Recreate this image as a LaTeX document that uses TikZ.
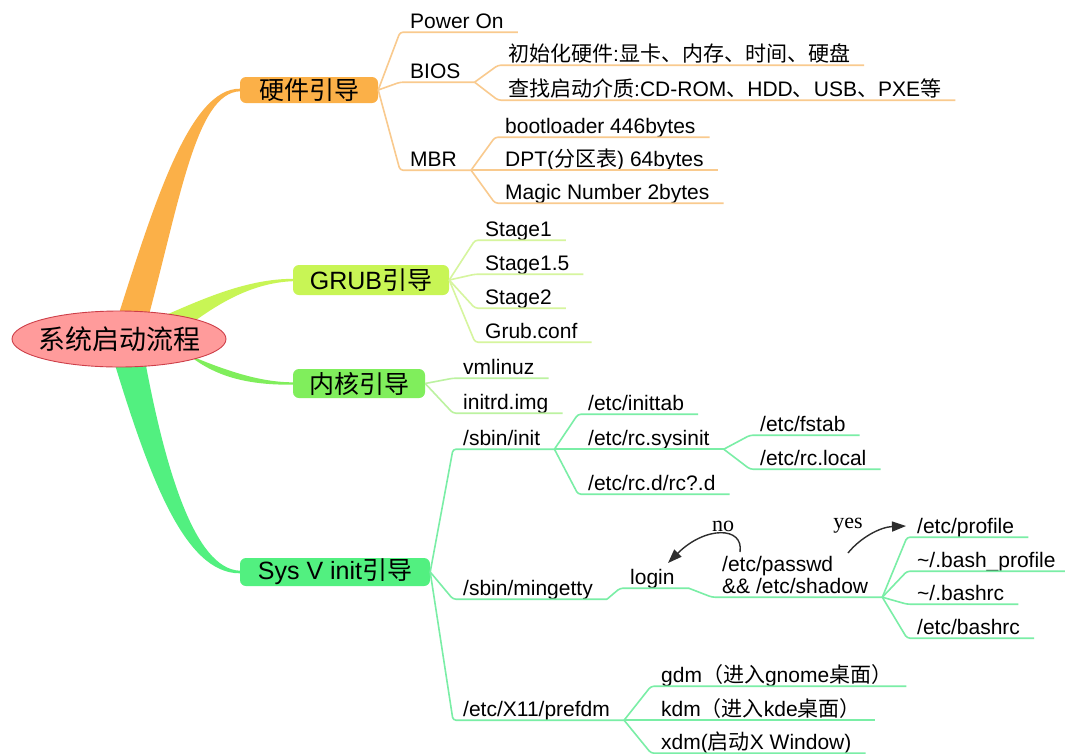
\documentclass[tikz,border=0pt]{standalone}
\usepackage{fontspec}
\setmainfont{Liberation Sans}
\newfontfamily\cjk{Noto Sans CJK SC}
\newfontfamily\notefont{Liberation Serif}
\usetikzlibrary{shapes.geometric,arrows.meta}

\newcommand\zh[1]{{\cjk #1}}

\definecolor{hwFill}{RGB}{251,176,72}
\definecolor{hwLine}{RGB}{249,202,142}
\definecolor{grubFill}{RGB}{200,245,85}
\definecolor{grubLine}{RGB}{214,245,158}
\definecolor{kerFill}{RGB}{128,238,92}
\definecolor{kerLine}{RGB}{188,242,160}
\definecolor{sysFill}{RGB}{82,240,128}
\definecolor{sysLine}{RGB}{122,238,166}
\definecolor{rootFill}{RGB}{255,155,155}
\definecolor{rootDraw}{RGB}{205,62,72}
\definecolor{noteInk}{RGB}{45,45,45}

\tikzset{
  leaf/.style={font=\fontsize{21}{21}\selectfont, inner sep=0pt,
    text height=16pt, text depth=4pt, anchor=base west},
  mainbox/.style={rounded corners=6pt, font=\fontsize{25}{25}\selectfont,
    inner sep=0pt, text=black},
  rootbox/.style={ellipse, fill=rootFill, draw=rootDraw, line width=0.9pt,
    minimum width=214pt, minimum height=56pt, inner sep=0pt,
    font=\cjk\fontsize{27}{27}\selectfont},
  twigline/.style={line width=1.6pt, rounded corners=3pt},
  notearrow/.style={draw=noteInk, line width=1.4pt,
    -{Triangle[length=14pt,width=10pt]}},
  notelabel/.style={font=\notefont\fontsize{22}{22}\selectfont, inner sep=0pt}
}

% connector from a fork point to a leaf, continuing as the leaf's underline
\newcommand\twig[3]{%
  \draw[twigline, #1] (#2) -- ([xshift=-10pt]#3.south west)
    -- ([xshift=14pt]#3.south east) coordinate (#3-e);}

\begin{document}
\begin{tikzpicture}[x=1pt,y=-1pt]
\fill[white] (0,0) rectangle (1065,753);
\useasboundingbox (0,0) rectangle (1065,753);

% main nodes
\node[mainbox, fill=hwFill, minimum width=138pt, minimum height=26pt] (hw) at (309,90) {\zh{硬件引导}};
\node[mainbox, fill=grubFill, minimum width=156pt, minimum height=30pt] (grub) at (371,280) {GRUB\zh{引导}};
\node[mainbox, fill=kerFill, minimum width=132pt, minimum height=29pt] (ker) at (359,383.5) {\zh{内核引导}};
\node[mainbox, fill=sysFill, minimum width=190pt, minimum height=28pt] (sysv) at (335,572) {Sys V init\zh{引导}};

% tapered branches from the centre
\fill[hwFill] (115,326) .. controls (155,200) and (190,88.5) .. ([yshift=1.3pt]hw.west)
  -- ([yshift=-1.3pt]hw.west) .. controls (196,93) and (180,200) .. (146,326) -- cycle;
\fill[grubFill] (150,322) .. controls (200,300) and (245,279) .. ([yshift=1.2pt]grub.west)
  -- ([yshift=-1.2pt]grub.west) .. controls (250,283) and (215,305) .. (180,332) -- cycle;
\fill[kerFill] (165,345) .. controls (205,362) and (250,382.3) .. ([yshift=1.2pt]ker.west)
  -- ([yshift=-1.2pt]ker.west) .. controls (250,385) and (215,378) .. (185,352) -- cycle;
\fill[sysFill] (112,355) .. controls (150,480) and (185,573.3) .. ([yshift=-1.3pt]sysv.west)
  -- ([yshift=1.3pt]sysv.west) .. controls (195,569) and (165,470) .. (144,355) -- cycle;

% centre
\node[rootbox] (root) at (119,339) {\makebox[0pt]{系统启动流程}};

% hardware boot
\node[leaf] (pwr) at (410,28) {Power On};
\node[leaf] (bios) at (410,78) {BIOS};
\node[leaf] (mbr) at (410,166) {MBR};
\twig{hwLine}{hw.east}{pwr}
\twig{hwLine}{hw.east}{bios}
\twig{hwLine}{hw.east}{mbr}
\node[leaf] (hwinit) at (508,61) {\zh{初始化硬件}:\zh{显卡、内存、时间、硬盘}};
\node[leaf] (hwfind) at (508,96) {\zh{查找启动介质}:CD-ROM\zh{、}HDD\zh{、}USB\zh{、}PXE\zh{等}};
\twig{hwLine}{bios-e}{hwinit}
\twig{hwLine}{bios-e}{hwfind}
\node[leaf] (boot) at (505,133) {bootloader 446bytes};
\node[leaf] (dpt) at (505,166) {DPT(\zh{分区表}) 64bytes};
\node[leaf] (magic) at (505,199) {Magic Number 2bytes};
\twig{hwLine}{mbr-e}{boot}
\twig{hwLine}{mbr-e}{dpt}
\twig{hwLine}{mbr-e}{magic}

% GRUB
\node[leaf] (s1) at (485,236) {Stage1};
\node[leaf] (s15) at (485,270) {Stage1.5};
\node[leaf] (s2) at (485,304) {Stage2};
\node[leaf] (gconf) at (485,338) {Grub.conf};
\twig{grubLine}{grub.east}{s1}
\twig{grubLine}{grub.east}{s15}
\twig{grubLine}{grub.east}{s2}
\twig{grubLine}{grub.east}{gconf}

% kernel
\node[leaf] (vml) at (463,374) {vmlinuz};
\node[leaf] (initrd) at (463,409) {initrd.img};
\twig{kerLine}{ker.east}{vml}
\twig{kerLine}{ker.east}{initrd}

% Sys V init
\node[leaf] (sinit) at (463,445) {/sbin/init};
\node[leaf] (ming) at (463,595) {/sbin/mingetty};
\node[leaf] (xdmcfg) at (463,716) {/etc/X11/prefdm};
\twig{sysLine}{sysv.east}{sinit}
\twig{sysLine}{sysv.east}{ming}
\twig{sysLine}{sysv.east}{xdmcfg}

\node[leaf] (inittab) at (588,410) {/etc/inittab};
\node[leaf] (rcsys) at (588,445) {/etc/rc.sysinit};
\node[leaf] (rcd) at (588,490) {/etc/rc.d/rc?.d};
\twig{sysLine}{sinit-e}{inittab}
\twig{sysLine}{sinit-e}{rcsys}
\twig{sysLine}{sinit-e}{rcd}

\node[leaf] (fstab) at (760,431) {/etc/fstab};
\node[leaf] (rclocal) at (760,465) {/etc/rc.local};
\twig{sysLine}{rcsys-e}{fstab}
\twig{sysLine}{rcsys-e}{rclocal}

\node[leaf] (login) at (630,584) {login};
\twig{sysLine}{ming-e}{login}
\node[leaf, text height=37pt] (pw) at (722,593)
  {\begin{tabular}[b]{@{}l@{}}/etc/passwd\\\&\& /etc/shadow\end{tabular}};
\twig{sysLine}{login-e}{pw}

\node[leaf] (prof) at (917,533) {/etc/profile};
\node[leaf] (bprof) at (917,567) {\textasciitilde/.bash\_profile};
\node[leaf] (brc) at (917,600) {\textasciitilde/.bashrc};
\node[leaf] (ebrc) at (917,634) {/etc/bashrc};
\twig{sysLine}{pw-e}{prof}
\twig{sysLine}{pw-e}{bprof}
\twig{sysLine}{pw-e}{brc}
\twig{sysLine}{pw-e}{ebrc}

\node[leaf] (gdm) at (661,682) {gdm\zh{（进入}gnome\zh{桌面）}};
\node[leaf] (kdm) at (661,716) {kdm\zh{（进入}kde\zh{桌面）}};
\node[leaf] (xdm) at (661,749) {xdm(\zh{启动}X Window)};
\twig{sysLine}{xdmcfg-e}{gdm}
\twig{sysLine}{xdmcfg-e}{kdm}
\twig{sysLine}{xdmcfg-e}{xdm}

% authentication outcome arrows
\coordinate (noS) at (740,552);
\coordinate (noE) at (668,563);
\coordinate (yesS) at (848,553);
\coordinate (yesE) at (906,526);
\draw[notearrow] (noS) .. controls (744,526) and (705,526) .. (noE);
\draw[notearrow] (yesS) .. controls (860,538) and (880,527) .. (yesE);
\node[notelabel] (no) at (723,526) {no};
\node[notelabel] (yes) at (848,526) {yes};
\end{tikzpicture}
\end{document}
